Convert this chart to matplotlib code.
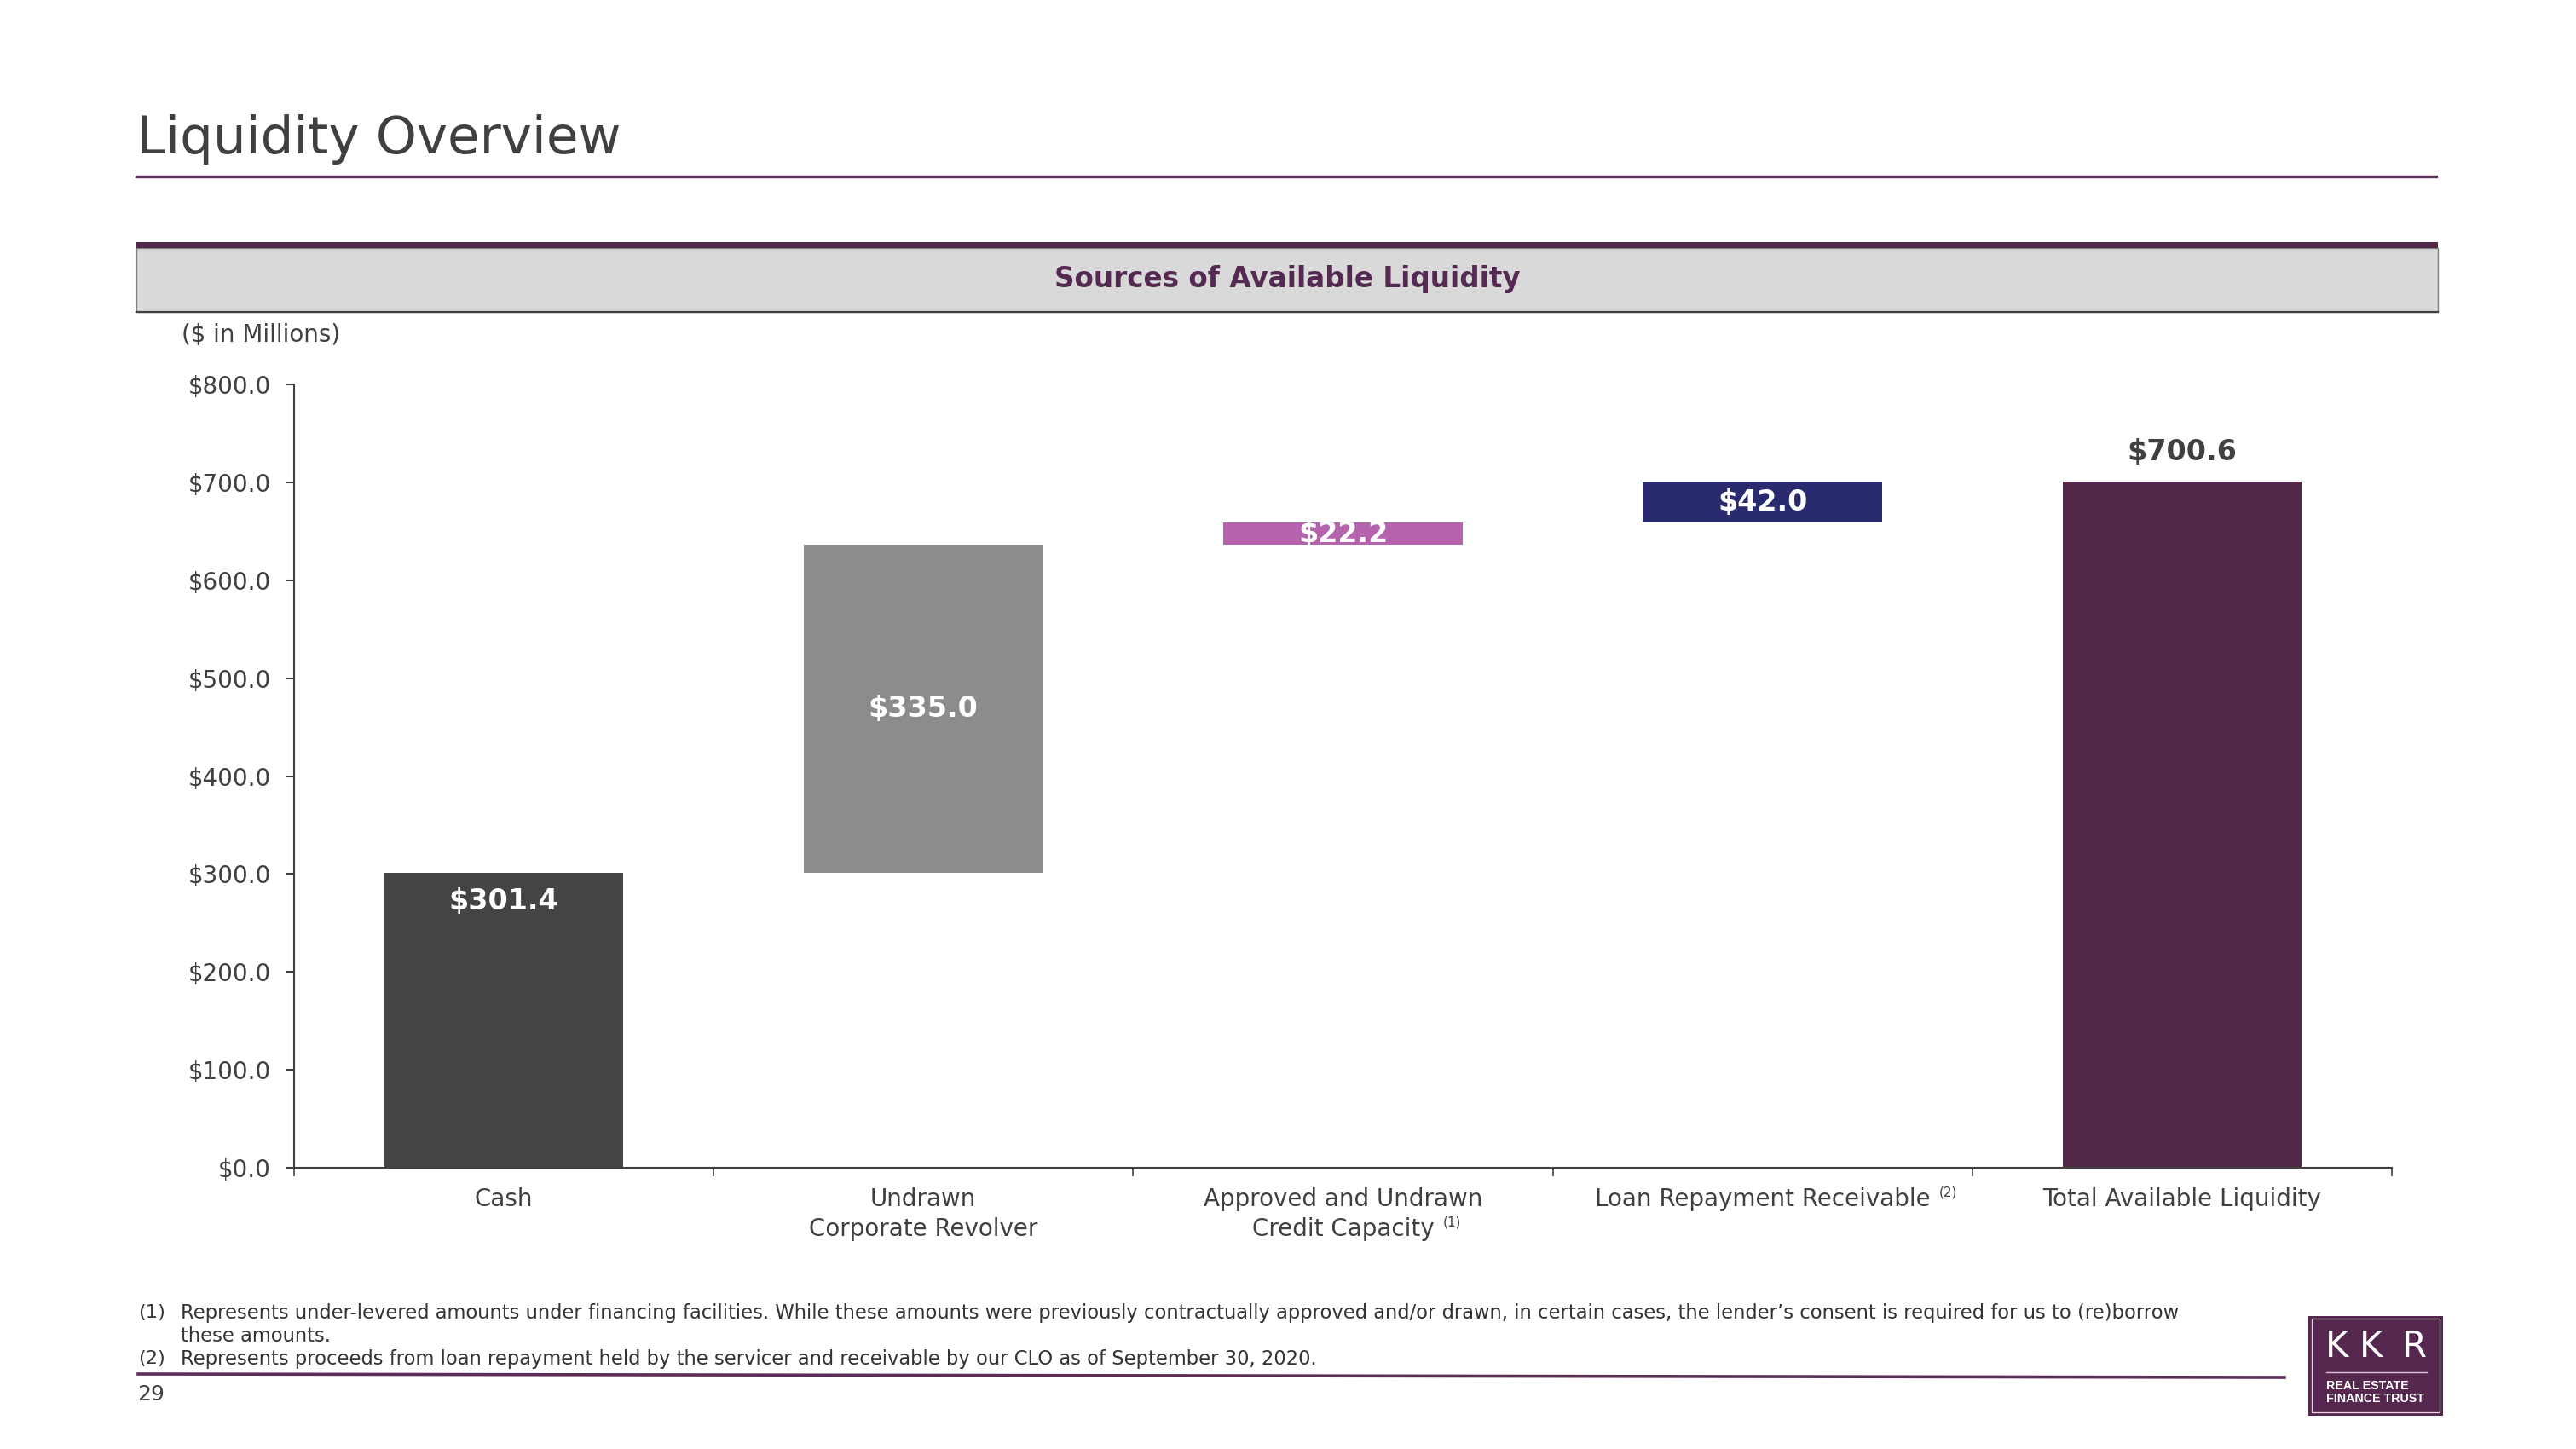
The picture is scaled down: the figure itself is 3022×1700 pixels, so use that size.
import matplotlib
matplotlib.use("Agg")
import matplotlib.pyplot as plt
from matplotlib.patches import Rectangle
from matplotlib.lines import Line2D
from matplotlib.transforms import IdentityTransform

# ---------------- data ----------------
categories = ["Cash", "Undrawn\nCorporate Revolver", "Approved and Undrawn\nCredit Capacity",
              "Loan Repayment Receivable", "Total Available Liquidity"]
footnote_marks = ["", "", "(1)", "(2)", ""]
values = [301.4, 335.0, 22.2, 42.0, 700.6]
is_total = [False, False, False, False, True]
value_labels = ["$301.4", "$335.0", "$22.2", "$42.0", "$700.6"]
yticks = [0, 100, 200, 300, 400, 500, 600, 700, 800]
ytick_labels = ["$0.0", "$100.0", "$200.0", "$300.0", "$400.0", "$500.0", "$600.0", "$700.0", "$800.0"]
title = "Liquidity Overview"
panel_title = "Sources of Available Liquidity"
unit_label = "($ in Millions)"
footnote_ids = ["(1)", "", "(2)"]
footnote_texts = [
    "Represents under-levered amounts under financing facilities. While these amounts were previously contractually approved and/or drawn, in certain cases, the lender\u2019s consent is required for us to (re)borrow",
    "these amounts.",
    "Represents proceeds from loan repayment held by the servicer and receivable by our CLO as of September 30, 2020.",
]
page_number = "29"

# ---------------- style ----------------
bar_colors = ["#444444", "#8c8c8c", "#b563ad", "#2a2b6e", "#532749"]
label_colors = ["white", "white", "white", "white", "#404040"]
TXT = "#404040"
PURPLE = "#532749"

W, H = 3022, 1700
plt.rcParams['font.family'] = ['DejaVu Sans']
fig = plt.figure(figsize=(W / 100, H / 100), dpi=100)
fig.patch.set_facecolor("white")


def fx(x):
    return x / W


def fy(y):
    return 1 - y / H


# title + line
fig.text(fx(160), fy(180), title, fontsize=44, color=TXT, ha="left", va="baseline")
fig.add_artist(Line2D([fx(160), fx(2858)], [fy(207), fy(207)], color="#5b2d57", lw=2.4))

# panel header
fig.add_artist(Rectangle((fx(160), fy(366)), fx(2860) - fx(160), fy(291) - fy(366),
                         transform=fig.transFigure, facecolor="#d9d9d9", edgecolor="#7f7f7f", lw=1.0))
fig.add_artist(Rectangle((fx(160), fy(291)), fx(2860) - fx(160), fy(284) - fy(291),
                         transform=fig.transFigure, facecolor=PURPLE, edgecolor="none"))
fig.add_artist(Line2D([fx(160), fx(2860)], [fy(366), fy(366)], color="#404040", lw=1.6))
fig.text(fx(1510), fy(328), panel_title, fontsize=23.5, fontweight="bold", color="#552a52",
         ha="center", va="center")

fig.text(fx(213), fy(393), unit_label, fontsize=20, color=TXT, ha="left", va="center")

# ---------------- chart ----------------
ax = fig.add_axes([fx(345), fy(1370), fx(2806) - fx(345), fy(451) - fy(1370)])
xs = list(range(len(categories)))
bases = []
running = 0.0
for v, tot in zip(values, is_total):
    if tot:
        bases.append(0.0)
    else:
        bases.append(running)
        running += v

ax.bar(xs, values, bottom=bases, width=0.57, color=bar_colors, edgecolor="none", zorder=2)

ax.set_xlim(-0.5, len(categories) - 0.5)
ax.set_ylim(0, 800)
ax.set_yticks(yticks)
ax.set_yticklabels(ytick_labels)
ax.set_xticks([i - 0.5 for i in range(len(categories) + 1)])
ax.set_xticklabels([])
for s in ["top", "right"]:
    ax.spines[s].set_visible(False)
for s in ["left", "bottom"]:
    ax.spines[s].set_color(TXT)
    ax.spines[s].set_linewidth(1.5)
ax.tick_params(axis="y", direction="out", length=6.5, width=1.5, color=TXT, labelsize=20,
               labelcolor=TXT, pad=13)
ax.tick_params(axis="x", direction="out", length=7, width=1.2, color=TXT)

# value labels
for i, (v, b, lab, tot) in enumerate(zip(values, bases, value_labels, is_total)):
    if tot:
        ax.annotate(lab, (i, b + v), xytext=(0, 25), textcoords="offset points",
                    ha="center", va="center", fontsize=24, fontweight="bold", color=label_colors[i])
    elif i == 0:
        ax.annotate(lab, (i, b + v), xytext=(0, -24.5), textcoords="offset points",
                    ha="center", va="center", fontsize=24, fontweight="bold", color=label_colors[i])
    else:
        ax.annotate(lab, (i, b + v / 2), xytext=(0, 0), textcoords="offset points",
                    ha="center", va="center", fontsize=24, fontweight="bold", color=label_colors[i],
                    zorder=3)

# category labels (line by line, so footnote marks can follow the last line)
last_lines = []
for i, cat in enumerate(categories):
    lines = cat.split("\n")
    t = None
    for k, ln in enumerate(lines):
        off_px = 37 + 35 * k
        t = ax.annotate(ln, (i, 0), xycoords=("data", "axes fraction"),
                        xytext=(0, -off_px * 0.72), textcoords="offset points",
                        ha="center", va="center", fontsize=20, color=TXT)
    last_lines.append(t)

fig.canvas.draw()
renderer = fig.canvas.get_renderer()
for t, mark in zip(last_lines, footnote_marks):
    if mark:
        bb = t.get_window_extent(renderer)
        fig.text(bb.x1 + 10, bb.y1 - 6, mark, fontsize=11, color=TXT, ha="left", va="center",
                 transform=IdentityTransform())

# ---------------- footnotes / footer ----------------
for k, (fid, line) in enumerate(zip(footnote_ids, footnote_texts)):
    yy = fy(1540 + 27 * k)
    if fid:
        fig.text(fx(162), yy, fid, fontsize=16.2, color="#333333", ha="left", va="center")
    fig.text(fx(212), yy, line, fontsize=16.25, color="#333333", ha="left", va="center")

fig.add_artist(Line2D([fx(162), fx(2680)], [fy(1612), fy(1616)], color="#5b2d57", lw=2.6))
fig.text(fx(161), fy(1636), page_number, fontsize=18, color=TXT, ha="left", va="center")

# logo
fig.add_artist(Rectangle((fx(2708), fy(1661)), fx(2866) - fx(2708), fy(1544) - fy(1661),
                         transform=fig.transFigure, facecolor="#57284f", edgecolor="none"))
fig.add_artist(Rectangle((fx(2712), fy(1657)), fx(2862) - fx(2712), fy(1547) - fy(1657),
                         transform=fig.transFigure, facecolor="none", edgecolor="#e8d8e6", lw=0.9))
for ch, cx in zip("KKR", [2742, 2782, 2832]):
    fig.text(fx(cx), fy(1580), ch, fontsize=30, fontweight="normal", color="white",
             ha="center", va="center")
fig.add_artist(Line2D([fx(2729), fx(2847)], [fy(1610), fy(1610)], color="#e0c8dc", lw=1.0))
fig.text(fx(2729), fy(1626), "REAL ESTATE", fontsize=10.3, fontweight="bold", color="white",
         family=["Liberation Sans", "DejaVu Sans"], ha="left", va="center")
fig.text(fx(2729), fy(1641), "FINANCE TRUST", fontsize=10.3, fontweight="bold", color="white",
         family=["Liberation Sans", "DejaVu Sans"], ha="left", va="center")

fig.savefig("out.png", dpi=100, facecolor="white")
